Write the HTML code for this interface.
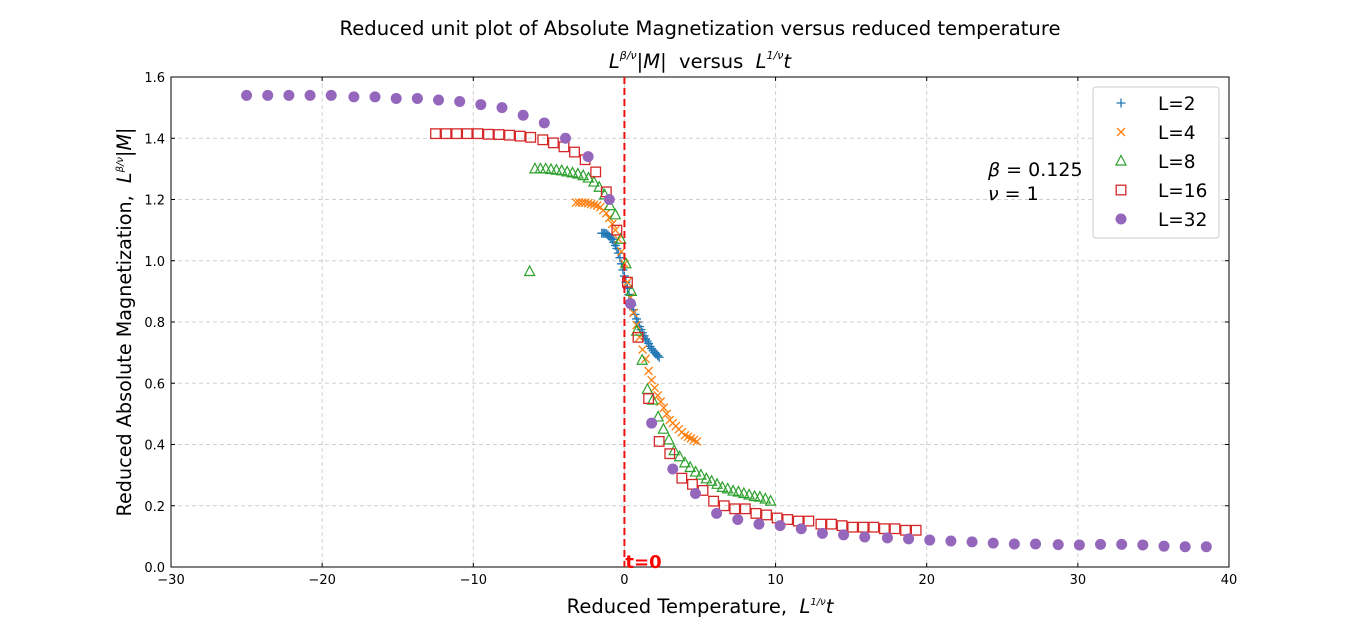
<!DOCTYPE html>
<html><head><meta charset="utf-8"><style>
body{margin:0;background:#fff;width:1366px;height:637px;overflow:hidden;font-family:"DejaVu Sans","Liberation Sans",sans-serif}
svg text{font-family:"DejaVu Sans","Liberation Sans",sans-serif}
</style></head><body>
<svg id="chart" width="1366" height="637" xmlns="http://www.w3.org/2000/svg">
<text x="700" y="35" font-size="19.6" text-anchor="middle">Reduced unit plot of Absolute Magnetization versus reduced temperature</text>
<text x="700" y="68" font-size="19.5" text-anchor="middle" xml:space="preserve"><tspan font-style="italic">L</tspan><tspan font-size="11" dy="-9" font-style="italic">β/ν</tspan><tspan dy="9" font-style="italic">|M|</tspan>  versus  <tspan font-style="italic">L</tspan><tspan font-size="11" dy="-9" font-style="italic">1/ν</tspan><tspan dy="9" font-style="italic">t</tspan></text>
<g id="grid"></g>
<g id="axes"></g>
<g id="marks"></g>
<text x="700" y="613" font-size="19.5" text-anchor="middle" xml:space="preserve">Reduced Temperature,  <tspan font-style="italic">L</tspan><tspan font-size="10" dy="-8" font-style="italic">1/ν</tspan><tspan dy="8" font-style="italic">t</tspan></text>
<text transform="translate(131,322) rotate(-90)" font-size="19.2" text-anchor="middle" xml:space="preserve">Reduced Absolute Magnetization,  <tspan font-style="italic">L</tspan><tspan font-size="10" dy="-8" font-style="italic">β/ν</tspan><tspan dy="8" font-style="italic">|M|</tspan></text>
<text x="988" y="176" font-size="19"><tspan font-style="italic">β</tspan> = 0.125</text>
<text x="988" y="200" font-size="19"><tspan font-style="italic">ν</tspan> = 1</text>
<g id="legend"></g>
</svg>
<script>
const xTicks=[-30,-20,-10,0,10,20,30,40];
const yTicks=[0,0.2,0.4,0.6,0.8,1.0,1.2,1.4,1.6];
const xL2=[-1.5,-1.4,-1.3,-1.2,-1.1,-1.0,-0.9,-0.8,-0.7,-0.6,-0.5,-0.4,-0.3,-0.2,-0.1,0,0.1,0.2,0.3,0.4,0.5,0.6,0.7,0.8,0.9,1.0,1.1,1.2,1.3,1.4,1.5,1.6,1.7,1.8,1.9,2.0,2.1,2.2,2.3];
const yL2=[1.09,1.09,1.09,1.088,1.085,1.08,1.075,1.07,1.06,1.05,1.04,1.025,1.01,0.99,0.97,0.95,0.93,0.91,0.89,0.87,0.855,0.84,0.825,0.81,0.80,0.785,0.775,0.765,0.755,0.745,0.738,0.73,0.72,0.713,0.706,0.70,0.695,0.69,0.685];
const xL4=[-3.2,-3.0,-2.8,-2.6,-2.4,-2.2,-2.0,-1.8,-1.6,-1.4,-1.2,-1.0,-0.8,-0.6,-0.4,-0.2,0,0.2,0.4,0.6,0.8,1.0,1.2,1.4,1.6,1.8,2.0,2.2,2.4,2.6,2.8,3.0,3.2,3.4,3.6,3.8,4.0,4.2,4.4,4.6,4.8];
const yL4=[1.19,1.19,1.19,1.19,1.188,1.185,1.183,1.18,1.175,1.165,1.155,1.14,1.12,1.10,1.07,1.03,0.99,0.93,0.88,0.83,0.79,0.75,0.71,0.68,0.64,0.61,0.585,0.56,0.54,0.52,0.50,0.48,0.47,0.46,0.45,0.44,0.43,0.425,0.42,0.415,0.41];
const xL8=[-6.27,-5.92,-5.56,-5.21,-4.86,-4.50,-4.15,-3.79,-3.44,-3.08,-2.73,-2.38,-2.02,-1.67,-1.31,-0.96,-0.60,-0.25,0.10,0.46,0.81,1.17,1.52,1.87,2.23,2.58,2.94,3.29,3.65,4.00,4.35,4.71,5.06,5.42,5.77,6.13,6.48,6.83,7.19,7.54,7.90,8.25,8.61,8.96,9.32,9.67];
const yL8=[0.965,1.30,1.30,1.30,1.298,1.296,1.294,1.29,1.287,1.283,1.278,1.27,1.257,1.24,1.215,1.18,1.15,1.07,0.99,0.90,0.77,0.675,0.58,0.545,0.49,0.45,0.415,0.38,0.36,0.34,0.325,0.31,0.30,0.288,0.28,0.27,0.26,0.255,0.248,0.245,0.24,0.235,0.23,0.228,0.222,0.215];
const xL16=[-12.5,-11.8,-11.1,-10.4,-9.7,-9.0,-8.3,-7.6,-6.9,-6.2,-5.4,-4.7,-4.0,-3.3,-2.6,-1.9,-1.2,-0.5,0.2,0.9,1.6,2.3,3.0,3.8,4.5,5.2,5.9,6.6,7.3,8.0,8.7,9.4,10.1,10.8,11.5,12.2,13.0,13.7,14.4,15.1,15.8,16.5,17.2,17.9,18.6,19.3];
const yL16=[1.415,1.415,1.415,1.415,1.415,1.413,1.412,1.41,1.407,1.403,1.395,1.385,1.372,1.355,1.33,1.29,1.225,1.10,0.93,0.75,0.55,0.41,0.37,0.29,0.27,0.25,0.215,0.20,0.19,0.19,0.175,0.17,0.16,0.155,0.15,0.15,0.14,0.14,0.135,0.13,0.13,0.13,0.125,0.125,0.12,0.12];
const xL32=[-25,-23.6,-22.2,-20.8,-19.4,-17.9,-16.5,-15.1,-13.7,-12.3,-10.9,-9.5,-8.1,-6.7,-5.3,-3.9,-2.4,-1.0,0.4,1.8,3.2,4.7,6.1,7.5,8.9,10.3,11.7,13.1,14.5,15.9,17.4,18.8,20.2,21.6,23.0,24.4,25.8,27.2,28.7,30.1,31.5,32.9,34.3,35.7,37.1,38.5];
const yL32=[1.54,1.54,1.54,1.54,1.54,1.535,1.535,1.53,1.53,1.525,1.52,1.51,1.5,1.475,1.45,1.40,1.34,1.2,0.86,0.47,0.32,0.24,0.175,0.155,0.14,0.135,0.125,0.11,0.105,0.098,0.095,0.092,0.088,0.085,0.082,0.078,0.075,0.075,0.073,0.072,0.074,0.074,0.072,0.068,0.066,0.066];
const X0=171,X1=1229,Y0=567,Y1=77;
function sx(v){return X0+(v+30)/70*(X1-X0);}
function sy(v){return Y0-v/1.6*(Y0-Y1);}
const NS="http://www.w3.org/2000/svg";
function mk(tag,attrs,parent){const e=document.createElementNS(NS,tag);for(const k in attrs)e.setAttribute(k,attrs[k]);parent.appendChild(e);return e;}
const grid=document.getElementById('grid'),axes=document.getElementById('axes'),marks=document.getElementById('marks'),legend=document.getElementById('legend');
xTicks.forEach(t=>{const x=sx(t);
 const g=mk('line',{x1:x,x2:x,y1:Y1,y2:Y0,stroke:'#d0d0d0','stroke-dasharray':'4,3','stroke-width':1},grid);
 
 mk('line',{x1:x,x2:x,y1:Y0,y2:Y0-4,stroke:'#000'},axes);
 mk('line',{x1:x,x2:x,y1:Y1,y2:Y1+4,stroke:'#000'},axes);
 const l=mk('text',{x:x,y:Y0+17,'font-size':13,'text-anchor':'middle'},axes);l.textContent=(t<0?'\u2212'+(-t):t);
 });
yTicks.forEach(t=>{const y=sy(t);
 const g=mk('line',{x1:X0,x2:X1,y1:y,y2:y,stroke:'#d0d0d0','stroke-dasharray':'4,3','stroke-width':1},grid);
 
 mk('line',{x1:X0,x2:X0+4,y1:y,y2:y,stroke:'#000'},axes);
 mk('line',{x1:X1,x2:X1-4,y1:y,y2:y,stroke:'#000'},axes);
 const l=mk('text',{x:X0-6,y:y+5,'font-size':13,'text-anchor':'end'},axes);l.textContent=t.toFixed(1);
 });
const fr=mk('rect',{x:X0,y:Y1,width:X1-X0,height:Y0-Y1,fill:'none',stroke:'#000','stroke-width':1},axes);

function marker(kind,x,y,p){
 if(kind==='plus'){return mk('path',{d:`M${x-4.5},${y}H${x+4.5}M${x},${y-4.5}V${y+4.5}`,stroke:'#1f77b4','stroke-width':1.3},p);}
 if(kind==='x'){return mk('path',{d:`M${x-4},${y-4}L${x+4},${y+4}M${x-4},${y+4}L${x+4},${y-4}`,stroke:'#ff7f0e','stroke-width':1.3},p);}
 if(kind==='tri'){return mk('path',{d:`M${x},${y-5.5}L${x+5},${y+4}L${x-5},${y+4}Z`,stroke:'#2ca02c',fill:'none','stroke-width':1.2},p);}
 if(kind==='sq'){return mk('rect',{x:x-4.8,y:y-4.8,width:9.6,height:9.6,stroke:'#d62728',fill:'none','stroke-width':1.3},p);}
 return mk('circle',{cx:x,cy:y,r:5.5,fill:'#9467bd'},p);}
const series=[['L=2','plus',xL2,yL2],['L=4','x',xL4,yL4],['L=8','tri',xL8,yL8],['L=16','sq',xL16,yL16],['L=32','dot',xL32,yL32]];
series.forEach(([name,kind,xs,ys])=>{
 const g=mk('g',{},marks);
 
 
 xs.forEach((v,i)=>{const m=marker(kind,sx(v),sy(ys[i]),g);
  
  });});
const vl=mk('line',{x1:sx(0),x2:sx(0),y1:Y1,y2:Y0,stroke:'#ee1111','stroke-width':2,'stroke-dasharray':'7,4'},marks);


const t0=mk('text',{x:sx(0)+1,y:Y0+1,'font-size':18,'font-weight':'bold',fill:'#ff0000'},marks);t0.textContent='t=0';


const lb=mk('rect',{x:1093,y:87,width:126,height:151,rx:3,fill:'#fff',stroke:'#cccccc'},legend);


series.forEach(([name,kind],i)=>{const y=103+i*29;
 const g=mk('g',{},legend);
 
 
 marker(kind,1121,y,g);
 const t=mk('text',{x:1158,y:y+7,'font-size':18.5},g);t.textContent=name;});
</script>
</body></html>
